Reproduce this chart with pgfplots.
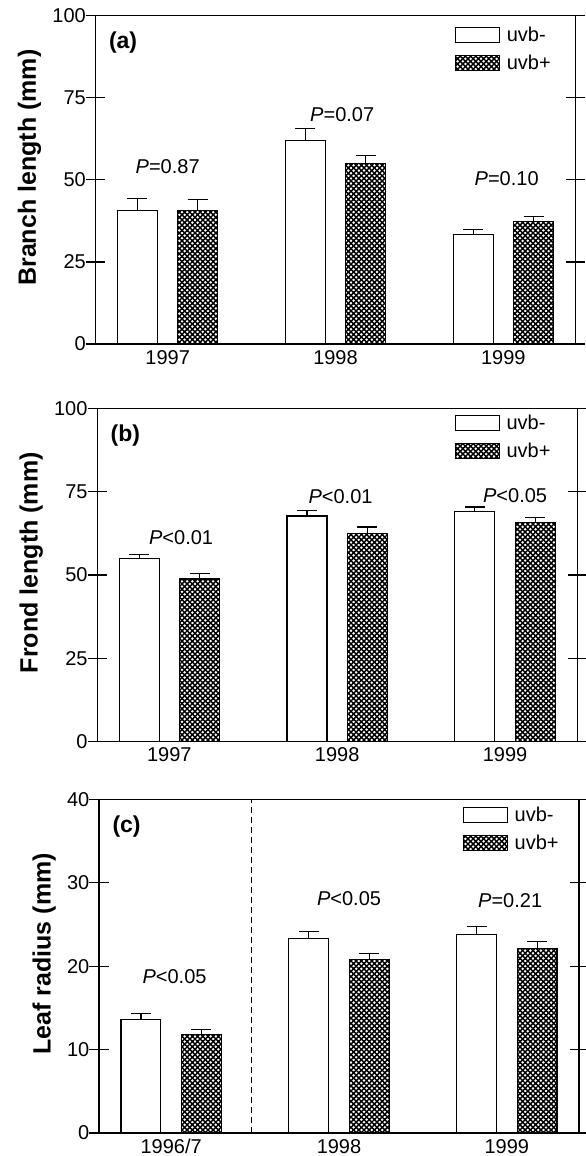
\documentclass[border=0pt]{standalone}
\usepackage{fontspec}
\setmainfont{Liberation Sans}
\usepackage{pgfplots}
\pgfplotsset{compat=1.18}
\usetikzlibrary{patterns}

% dense diagonal cross-hatch, as in the scanned figure
\pgfdeclarepatternformonly{xhatch}{\pgfqpoint{-1pt}{-1pt}}{\pgfqpoint{6.2pt}{6.2pt}}{\pgfqpoint{5.2pt}{5.2pt}}{%
  \pgfsetlinewidth{1.4pt}%
  \pgfpathmoveto{\pgfqpoint{-1pt}{-1pt}}\pgfpathlineto{\pgfqpoint{6.2pt}{6.2pt}}%
  \pgfpathmoveto{\pgfqpoint{-1pt}{6.2pt}}\pgfpathlineto{\pgfqpoint{6.2pt}{-1pt}}%
  \pgfusepath{stroke}}

\newcommand{\txt}{\fontsize{20}{20}\selectfont}

\pgfplotsset{
  boxlegend/.style={legend image code/.code={\draw[##1,line width=1.1pt] (0pt,-7.5pt) rectangle (44pt,7.5pt);}},
  minus/.style={draw=black, fill=white, line width=1.1pt, boxlegend},
  plus/.style={draw=black, pattern=xhatch, line width=1.1pt, boxlegend},
  panel/.style={
    scale only axis, width=480pt,
    xmin=-0.43, xmax=2.43, ymin=0,
    axis line style={line width=1.2pt},
    tick align=center, major tick length=19pt,
    every tick/.style={black, line width=1.2pt},
    xtick={0,1,2}, major x tick style={draw=none},
    /pgf/number format/assume math mode=true,
    tick label style={font=\txt},
    xticklabel style={inner sep=0pt, yshift=13pt},
    yticklabel style={inner sep=0pt},
    ylabel style={font=\fontsize{25}{25}\selectfont\bfseries, at={(ticklabel cs:0.537,11pt)}, anchor=near ticklabel, inner sep=0pt},
    ybar, bar width=0.238, bar shift=0pt,
    legend style={draw=none, fill=none, inner sep=0pt, row sep=9pt, font=\txt,
      cells={anchor=west}, nodes={inner sep=1.5pt},
      /tikz/every odd column/.style={column sep=5pt}},
    error bars/y dir=plus, error bars/y explicit,
    error bars/error bar style={line width=1.1pt, black},
    error bars/error mark options={rotate=90, line width=1.1pt, mark size=10pt, black, solid},
  },
}

\begin{document}
\begin{tikzpicture}

% (a) branch length
\begin{axis}[panel, at={(95.5pt,-15.7pt)}, anchor=north west, height=328.3pt,
  ymax=100, ytick={0,25,50,75,100}, ylabel={Branch length (mm)},
  xticklabels={1997,1998,1999},
  legend style={at={(0.749,1)}, anchor=north west, yshift=-10pt}]
\addplot[minus] coordinates {(-0.18,40.6) +- (0,3.6) (0.82,62.1) +- (0,3.6) (1.82,33.3) +- (0,1.6)};
\addlegendentry{uvb-}
\addplot[plus] coordinates {(0.18,40.8) +- (0,3.1) (1.18,55.1) +- (0,2.4) (2.18,37.4) +- (0,1.5)};
\addlegendentry{uvb+}
\node[font=\txt] at (axis cs:0,54) {\textit{P}=0.87};
\node[font=\txt] at (axis cs:1.04,69.8) {\textit{P}=0.07};
\node[font=\txt] at (axis cs:2.02,50.3) {\textit{P}=0.10};
\node[anchor=west, font=\fontsize{23}{23}\selectfont\bfseries, xshift=10pt, yshift=-27pt] at (rel axis cs:0,1) {(a)};
\end{axis}

% (b) frond length
\begin{axis}[panel, at={(97.2pt,-408.3pt)}, anchor=north west, height=333.4pt,
  ymax=100, ytick={0,25,50,75,100}, ylabel={Frond length (mm)},
  xticklabels={1997,1998,1999},
  legend style={at={(0.745,1)}, anchor=north west, yshift=-5pt}]
\addplot[minus] coordinates {(-0.18,55.0) +- (0,1.2) (0.82,67.7) +- (0,1.7) (1.82,69.0) +- (0,1.4)};
\addlegendentry{uvb-}
\addplot[plus] coordinates {(0.18,48.8) +- (0,1.7) (1.18,62.4) +- (0,2.0) (2.18,65.8) +- (0,1.4)};
\addlegendentry{uvb+}
\node[font=\txt] at (axis cs:0.07,61.3) {\textit{P}<0.01};
\node[font=\txt] at (axis cs:1.02,73.5) {\textit{P}<0.01};
\node[font=\txt] at (axis cs:2.06,73.8) {\textit{P}<0.05};
\node[anchor=west, font=\fontsize{23}{23}\selectfont\bfseries, xshift=10pt, yshift=-27pt] at (rel axis cs:0,1) {(b)};
\end{axis}

% (c) leaf radius
\begin{axis}[panel, at={(99pt,-799.3pt)}, anchor=north west, height=333.7pt,
  ymax=40, ytick={0,10,20,30,40}, ylabel={Leaf radius (mm)},
  xticklabels={1996/7,1998,1999},
  legend style={at={(0.758,1)}, anchor=north west, yshift=-6pt}]
\addplot[minus] coordinates {(-0.18,13.64) +- (0,0.70) (0.82,23.28) +- (0,0.84) (1.82,23.80) +- (0,0.96)};
\addlegendentry{uvb-}
\addplot[plus] coordinates {(0.18,11.76) +- (0,0.64) (1.18,20.80) +- (0,0.68) (2.18,22.08) +- (0,0.84)};
\addlegendentry{uvb+}
\draw[line width=1pt, dash pattern=on 6pt off 4pt] (axis cs:0.477,0) -- (axis cs:0.477,40);
\node[font=\txt] at (axis cs:0.02,18.8) {\textit{P}<0.05};
\node[font=\txt] at (axis cs:1.06,28.1) {\textit{P}<0.05};
\node[font=\txt] at (axis cs:2.02,27.9) {\textit{P}=0.21};
\node[anchor=west, font=\fontsize{23}{23}\selectfont\bfseries, xshift=10pt, yshift=-27pt] at (rel axis cs:0,1) {(c)};
\end{axis}

\pgfresetboundingbox
\path[use as bounding box] (0,0) rectangle (586pt,-1156pt);
\end{tikzpicture}
\end{document}
